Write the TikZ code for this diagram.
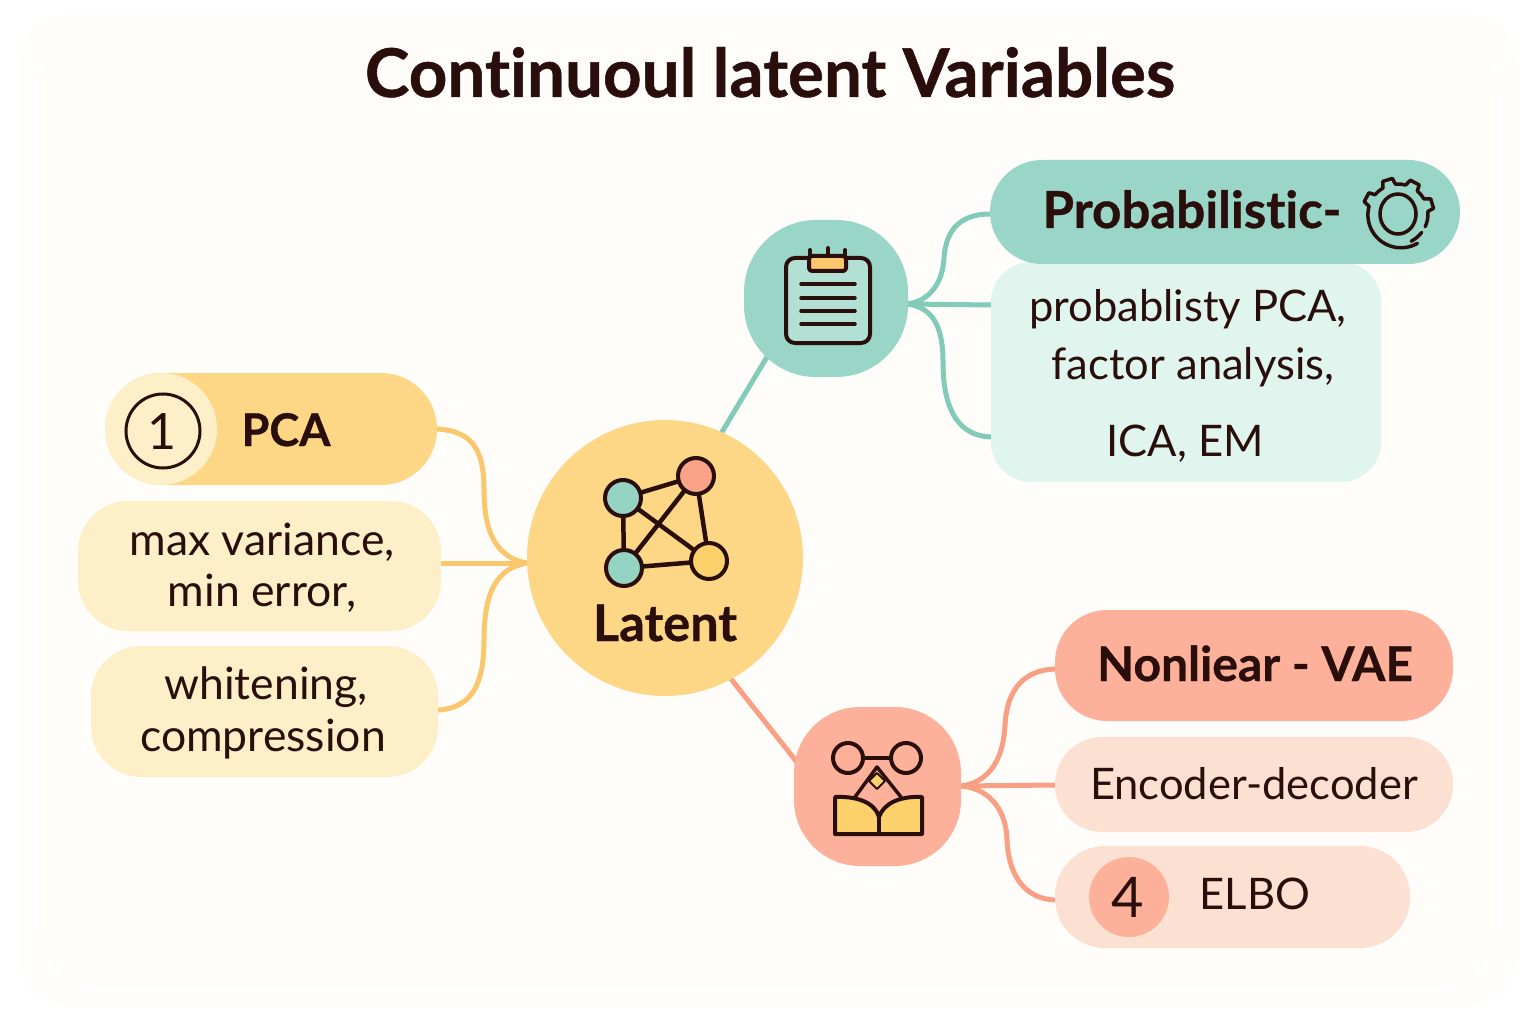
\documentclass[tikz,border=0pt]{standalone}
\usepackage{fontspec}
\setmainfont{Lato}[Ligatures=NoCommon,BoldFeatures={FakeBold=0.7}]
\usetikzlibrary{backgrounds}
\definecolor{ink}{HTML}{2A0E0C}
\definecolor{paper}{HTML}{FEFDFA}
\definecolor{paperb}{HTML}{FFFEFD}
\definecolor{amber}{HTML}{FDD686}
\definecolor{amberl}{HTML}{FDF0C9}
\definecolor{amberc}{HTML}{FAC76C}
\definecolor{amberd}{HTML}{FCD16C}
\definecolor{teal}{HTML}{9AD6C7}
\definecolor{teall}{HTML}{E0F5EE}
\definecolor{tealc}{HTML}{82CBB9}
\definecolor{coral}{HTML}{FDB19B}
\definecolor{corall}{HTML}{FCE1D3}
\definecolor{coralc}{HTML}{F99F83}
\tikzset{
  box/.style={inner sep=0pt,outer sep=0pt,rectangle},
  lab/.style={inner sep=0pt,outer sep=0pt,anchor=base,text=ink,font=\fontsize{43.5}{43.5}\selectfont},
  llab/.style={lab,font=\fontsize{44.5}{44.5}\selectfont},
  blab/.style={lab,font=\fontsize{48}{48}\selectfont\bfseries},
  conn/.style={line width=5pt,line cap=round},
  icon/.style={draw=ink,line width=4pt,line join=round,line cap=round},
}
\newcommand{\rbox}[7]{% name, xmin, ymin, xmax, ymax, radius, fill
  \node[box,fill=#7,rounded corners=#6pt,minimum width={(#4-#2)*1pt},minimum height={(#5-#3)*1pt}] (#1) at ({(#2+#4)/2},{(#3+#5)/2}) {};}
\begin{document}
\begin{tikzpicture}[x=1pt,y=-1pt]
\useasboundingbox (0,0) rectangle (1536,1024);
% top-layer shapes
\node[box,circle,fill=amber,minimum size=276pt] (hub) at (665,558) {};
\rbox{thub}{744}{220}{908}{377}{72}{teal}
\rbox{chub}{794}{707}{961}{866}{66}{coral}
\rbox{pca}{105}{373}{437}{485}{56}{amber}
\node[box,circle,fill=amberl,minimum size=112pt] (pcabadge) at (161,429) {};
\rbox{maxb}{78}{501}{441}{631}{50}{amberl}
\rbox{whi}{91}{646}{438}{777}{50}{amberl}
\rbox{teb}{991}{262}{1381}{482}{40}{teall}
\rbox{pro}{990}{160}{1460}{264}{52}{teal}
\rbox{non}{1055}{610}{1453}{721}{52}{coral}
\rbox{enc}{1055}{737}{1453}{832}{47}{corall}
\rbox{elb}{1055}{846}{1410}{948}{50}{corall}
\node[box,circle,fill=coral,minimum size=80pt] (fourb) at (1129,897) {};
% connector ends
\coordinate (hj) at (527,563);
\coordinate (tj) at (908,304);
\coordinate (cj) at (961,786);
\coordinate (tb1) at (991,305);
\coordinate (tb2) at (991,437);
\coordinate (pb) at (990,214);
\coordinate (mj) at (441,563);
\coordinate (ej) at (1055,785);
\coordinate (nj) at (1055,669);
\coordinate (lj) at (1055,900);
\coordinate (wj) at (438,710);
\coordinate (tl) at (770,352);
\coordinate (hl) at (722,432);
\coordinate (hc) at (731,679);
\coordinate (cl) at (800,766);
\begin{scope}[on background layer]
  \fill[white] (0,0) rectangle (1536,1024);
  \fill[paperb,rounded corners=50pt] (18,14) rectangle (1518,1006);
  \fill[paper,rounded corners=60pt] (40,34) rectangle (1496,986);
  \draw[conn,amberc] (pca.east) .. controls (476,431) and (484,455) .. (484,490) .. controls (484,535) and (498,558) .. (hj);
  \draw[conn,amberc] (mj) -- (hj);
  \draw[conn,amberc] (wj) .. controls (472,708) and (484,684) .. (484,640) .. controls (484,590) and (498,568) .. (hj);
  \draw[conn,tealc] (tj) .. controls (932,300) and (943,280) .. (944,258) .. controls (946,228) and (962,214) .. (pb);
  \draw[conn,tealc] (tj) -- (tb1);
  \draw[conn,tealc] (tj) .. controls (932,308) and (943,325) .. (943,362) .. controls (943,412) and (960,436) .. (tb2);
  \draw[conn,tealc] (tl) -- (hl);
  \draw[conn,coralc] (cj) .. controls (985,783) and (1003,765) .. (1005,725) .. controls (1007,688) and (1025,670) .. (nj);
  \draw[conn,coralc] (cj) -- (ej);
  \draw[conn,coralc] (cj) .. controls (985,788) and (1006,805) .. (1007,840) .. controls (1009,880) and (1028,899) .. (lj);
  \draw[conn,coralc] (hc) -- (cl);
\end{scope}
% texts
\node[lab,font=\fontsize{67.3}{67.3}\selectfont\bfseries] (title) at (770,97) {Continuoul latent Variables};
\node[blab,font=\fontsize{45}{45}\selectfont\bfseries] (tpca) at (286,446) {PCA};
\node[llab] (tmax) at (262,555) {max variance,};
\node[llab] (tmin) at (262,606) {min error,};
\node[llab] (twhi) at (266,699) {whitening,};
\node[llab] (tcom) at (263,751) {compression};
\node[blab,font=\fontsize{50.5}{50.5}\selectfont\bfseries] (tlat) at (665,641) {Latent};
\node[blab,font=\fontsize{51}{51}\selectfont\bfseries] (tpro) at (1192,228) {Probabilistic-};
\node[lab] (tprb) at (1188,321) {probablisty PCA,};
\node[lab] (tfac) at (1193,379) {factor analysis,};
\node[lab] (tica) at (1185,456) {ICA, EM};
\node[blab] (tnon) at (1255,681) {Nonliear - VAE};
\node[lab] (tenc) at (1254,799) {Encoder-decoder};
\node[lab] (telb) at (1255,909) {ELBO};
\node[lab,font=\fontsize{56}{56}\selectfont] (tfour) at (1128,917) {4};
\node[lab,font=\fontsize{50}{50}\selectfont] (tone) at (162,449) {1};
% PCA ring
\draw[ink,line width=3pt] (163,431) circle (37);
% network icon
\coordinate (na) at (623,498);
\coordinate (nb) at (696,476);
\coordinate (nc) at (624,568);
\coordinate (nd) at (709,561);
\draw[ink,line width=4.5pt] (na)--(nb) (na)--(nc) (na)--(nd) (nb)--(nc) (nb)--(nd) (nc)--(nd);
\filldraw[icon,fill=tealc!85!white] (na) circle (18);
\filldraw[icon,fill=coralc!95!white] (nb) circle (18);
\filldraw[icon,fill=tealc!85!white] (nc) circle (18);
\filldraw[icon,fill=amberd] (nd) circle (18);
% clipboard icon
\filldraw[icon,fill=teal!75!white,rounded corners=9pt] (786,258) rectangle (870,343);
\draw[icon] (810,250)--(810,262) (828,248)--(828,262) (845,250)--(845,262);
\filldraw[icon,fill=amberc,rounded corners=3pt] (809,256) rectangle (846,271);
\draw[icon,line width=3.5pt] (801,284)--(855,284) (801,298)--(855,298) (801,311)--(855,311) (801,324)--(855,324);
% gear icon
\begin{scope}[shift={(1398,214)}]
  \draw[ink,line width=3.5pt] (0,0) ellipse (18 and 20);
  \draw[ink,line width=3.5pt,line cap=round,line join=round]
    (25:30) arc (25:-5:30) -- (-9:36) -- (-25:36) -- (-30:30) arc (-30:-50:30) -- (-54:36) -- (-70:36) -- (-75:30) arc (-75:-95:30)
    -- (-99:36) -- (-115:36) -- (-120:30) arc (-120:-140:30) -- (-144:36) -- (-160:36) -- (-165:30) arc (-165:-300:33);
  \draw[ink,line width=3.5pt,line cap=round] (38:30) arc (38:62:33);
\end{scope}
% coral icon
\draw[icon] (864,758)--(891,758);
\draw[icon] (848,758) circle (15);
\draw[icon] (906,758) circle (15);
\draw[icon,line width=3.5pt] (855,797)--(877,767)--(901,797);
\draw[icon,fill=amberd,line width=2pt] (877,773)--(885,781)--(877,789)--(869,781)--cycle;
\filldraw[icon,fill=amberd] (835,797) .. controls (858,796) and (875,803) .. (879,817) .. controls (884,803) and (900,796) .. (922,797) -- (922,834) -- (835,834) -- cycle;
\draw[icon] (879,817)--(879,834);
\end{tikzpicture}
\end{document}
